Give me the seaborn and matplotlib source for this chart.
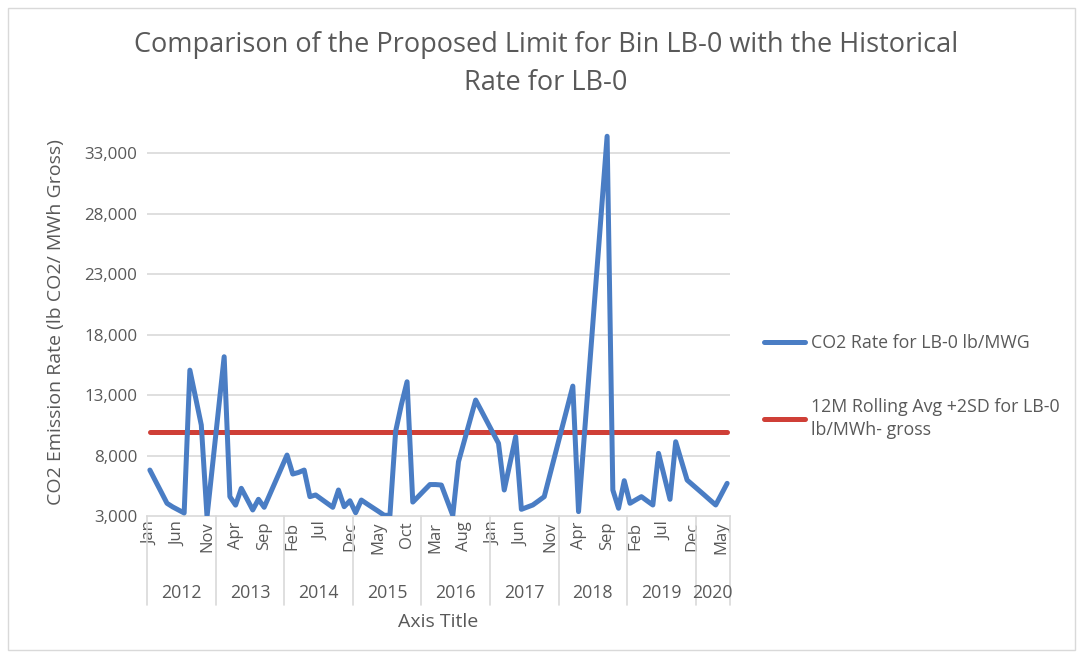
import numpy as np
import pandas as pd
import matplotlib.pyplot as plt
import seaborn as sns
from matplotlib.lines import Line2D
from matplotlib.patches import Rectangle
import matplotlib.transforms as mtransforms

# monthly CO2 rate, Jan 2012 .. Jun 2020 (lb CO2 / MWh gross)
co2_rate = [
    6800, 5880, 4970, 4050, 3750, 3500, 3250, 15060, 12800, 10520, 2950, 7350,      # 2012
    11760, 16170, 4600, 3900, 5290, 4400, 3500, 4380, 3720, 4800, 5880, 6960,       # 2013
    8040, 6470, 6600, 6800, 4600, 4740, 4400, 4060, 3720, 5150, 3770, 4260,         # 2014
    3270, 4320, 4000, 3690, 3380, 3060, 3060, 10000, 12200, 14100, 4150, 4630,      # 2015
    5120, 5600, 5600, 5560, 4300, 3050, 7490, 9190, 10890, 12590, 11700, 10800,     # 2016
    9900, 9010, 5150, 7350, 9550, 3550, 3730, 3910, 4250, 4600, 6430, 8260,         # 2017
    10090, 11910, 13740, 3360, 9570, 15780, 21990, 28190, 34400, 5150, 3640, 5920,  # 2018
    4050, 4330, 4600, 4250, 3910, 8180, 6280, 4380, 9140, 7550, 5970, 5560,         # 2019
    5150, 4740, 4320, 3910, 4800, 5700,                                             # 2020
]
limit = 9950

years = ['2012', '2013', '2014', '2015', '2016', '2017', '2018', '2019', '2020']
months = ['Jan', 'Feb', 'Mar', 'Apr', 'May', 'Jun', 'Jul', 'Aug', 'Sep', 'Oct', 'Nov', 'Dec']
y_ticks = [3000, 8000, 13000, 18000, 23000, 28000, 33000]

blue = '#4a7dc4'
red = '#cf3f37'
grey = '#595959'

n = len(co2_rate)
df = pd.DataFrame({'idx': np.arange(n), 'rate': co2_rate, 'limit': [limit] * n})

sns.set_style('white')
plt.rcParams['font.family'] = ['Open Sans', 'DejaVu Sans']

fig = plt.figure(figsize=(10.81, 6.57), dpi=100)
ax = fig.add_axes([147 / 1081, 1 - 516 / 657, 583 / 1081, 387 / 657])

for y in y_ticks[1:]:
    ax.axhline(y, color='#d9d9d9', lw=1.2, zorder=0)

sns.lineplot(data=df, x='idx', y='rate', ax=ax, color=blue, lw=3.6,
             label='CO2 Rate for LB-0 lb/MWG', zorder=3)
sns.lineplot(data=df, x='idx', y='limit', ax=ax, color=red, lw=3.6,
             label='12M Rolling Avg +2SD for LB-0\nlb/MWh- gross', zorder=2)

ax.set_xlim(-0.5, n - 0.5)
ax.set_ylim(3000, 35000)
ax.set_yticks(y_ticks)
ax.set_yticklabels([f'{v:,}' for v in y_ticks], fontsize=12.2, color=grey)

tick_idx = list(range(0, n, 5))
ax.set_xticks(tick_idx)
ax.set_xticklabels([months[i % 12] for i in tick_idx], rotation=90, fontsize=12,
                   color=grey, va='top', ha='center')
ax.tick_params(axis='both', length=0)
ax.tick_params(axis='x', pad=4)
ax.tick_params(axis='y', pad=7)
ax.set_xlabel('')
ax.set_ylabel('')

for s in ['top', 'right', 'left']:
    ax.spines[s].set_visible(False)
ax.spines['bottom'].set_color('#d9d9d9')
ax.spines['bottom'].set_linewidth(1.2)

# year groups under the month labels
trans = mtransforms.blended_transform_factory(ax.transData, ax.transAxes)
bounds = [-0.5 + 12 * i for i in range(len(years))] + [n - 0.5]
for b in bounds:
    ax.add_line(Line2D([b, b], [0, -0.23], transform=trans, color='#d9d9d9',
                       lw=1.2, clip_on=False))
for i, yr in enumerate(years):
    ax.text((bounds[i] + bounds[i + 1]) / 2, -0.2, yr, transform=trans,
            ha='center', va='center', fontsize=12.8, color=grey)

ax.text(0.5, -0.275, 'Axis Title', transform=ax.transAxes, ha='center', va='center',
        fontsize=14, color=grey)
ax.text(-0.156, 0.5, 'CO2 Emission Rate (lb CO2/ MWh Gross)', transform=ax.transAxes,
        rotation=90, ha='center', va='center', fontsize=14, color=grey)

fig.text(0.505, 1 - 45 / 657, 'Comparison of the Proposed Limit for Bin LB-0 with the Historical',
         ha='center', va='center', fontsize=19.5, color=grey)
fig.text(0.505, 1 - 83 / 657, 'Rate for LB-0', ha='center', va='center', fontsize=19.5, color=grey)

leg = ax.legend(loc='upper left', bbox_to_anchor=(748 / 1081, 1 - 318 / 657),
                bbox_transform=fig.transFigure, frameon=False, fontsize=12.8,
                handlelength=2.3, handletextpad=0.35, labelspacing=2.6, labelcolor=grey)
for t in leg.get_texts():
    t.set_linespacing(1.35)

fig.patches.append(Rectangle((8 / 1081, 7 / 657), 1067 / 1081, 642 / 657,
                             transform=fig.transFigure, fill=False,
                             edgecolor='#d9d9d9', lw=1))

fig.savefig('out.png', dpi=100)
